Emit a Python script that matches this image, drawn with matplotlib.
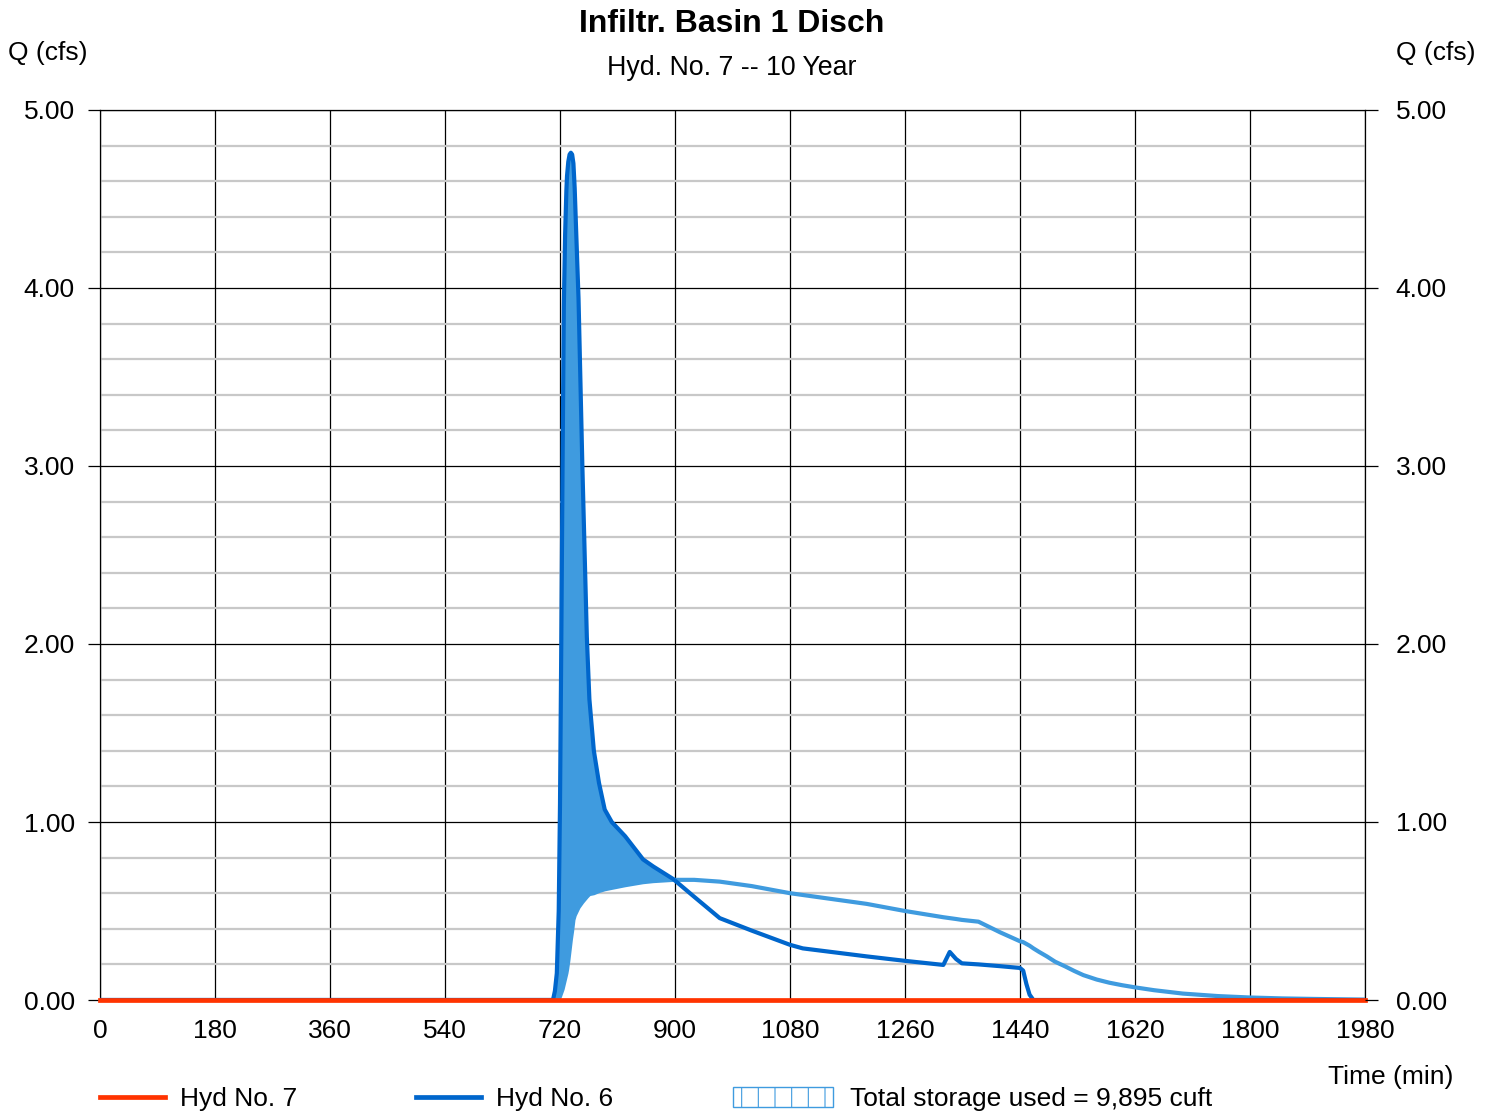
import matplotlib
matplotlib.use("Agg")
import matplotlib.pyplot as plt
from matplotlib.lines import Line2D
from matplotlib.patches import Rectangle
from matplotlib.ticker import MultipleLocator
import numpy as np

plt.rcParams['font.family'] = ['Liberation Sans', 'DejaVu Sans']
plt.rcParams['hatch.linewidth'] = 0.8

# hydrograph ordinates (min, cfs)
time_min = [0, 700, 709, 712, 715, 718, 720, 722, 724, 726, 728, 730, 731, 733, 735,
            737, 739, 741, 743, 745, 749, 755, 762, 766, 773, 781, 790, 801, 822, 850,
            866, 897, 930, 970, 1020, 1080, 1100, 1200, 1260, 1320, 1330, 1340, 1349,
            1375, 1409, 1440, 1445, 1450, 1455, 1461, 1470, 1482, 1495, 1510, 1525,
            1539, 1560, 1580, 1600, 1620, 1650, 1695, 1750, 1800, 1850, 1900, 1980]
hyd6 = [0, 0, 0, 0.05, 0.15, 0.5, 1.1, 2.0, 3.0, 3.9, 4.3, 4.55, 4.63, 4.71, 4.75,
        4.76, 4.75, 4.70, 4.56, 4.35, 3.94, 3.0, 2.04, 1.69, 1.40, 1.22, 1.07, 1.00, 0.92, 0.79,
        0.75, 0.68, 0.58, 0.46, 0.39, 0.31, 0.29, 0.245, 0.22, 0.197, 0.27, 0.23, 0.206,
        0.20, 0.19, 0.18, 0.165, 0.09, 0.03, 0, 0, 0, 0, 0, 0,
        0, 0, 0, 0, 0, 0, 0, 0, 0, 0, 0, 0]
routed = [0, 0, 0, 0, 0.005, 0.01, 0.02, 0.04, 0.06, 0.09, 0.12, 0.15, 0.17, 0.22, 0.28,
          0.34, 0.39, 0.45, 0.475, 0.49, 0.52, 0.55, 0.58, 0.595, 0.60, 0.612, 0.622, 0.63, 0.645, 0.662,
          0.668, 0.675, 0.675, 0.665, 0.64, 0.60, 0.59, 0.54, 0.50, 0.465, 0.46, 0.455, 0.45,
          0.44, 0.38, 0.33, 0.325, 0.315, 0.305, 0.29, 0.27, 0.245, 0.215, 0.19, 0.163,
          0.14, 0.115, 0.097, 0.083, 0.071, 0.055, 0.036, 0.022, 0.014, 0.009, 0.006, 0.002]
hyd7 = [0] * len(time_min)

x_ticks = [0, 180, 360, 540, 720, 900, 1080, 1260, 1440, 1620, 1800, 1980]

RED = '#FF3300'
DARK = '#0066CC'
LIGHT = '#3F9BDF'

t = np.array(time_min)
qin = np.array(hyd6)
qout = np.array(routed)

fig = plt.figure(figsize=(14.92, 11.12), dpi=100)
ax = fig.add_axes([100 / 1492, 1 - 1000 / 1112, 1265 / 1492, 890 / 1112])

ax.fill_between(t, qout, qin, where=qin >= qout, interpolate=True,
                color=LIGHT, linewidth=0, zorder=2)
ax.plot(t, qout, color=LIGHT, lw=3.0, zorder=3, solid_joinstyle='round')
ax.plot(t, qin, color=DARK, lw=3.0, zorder=4, solid_joinstyle='round')
ax.plot(t, hyd7, color=RED, lw=3.4, zorder=5, clip_on=False)

ax.set_xlim(0, 1980)
ax.set_ylim(0, 5)
ax.set_xticks(x_ticks)
ax.yaxis.set_major_locator(MultipleLocator(1))
ax.yaxis.set_minor_locator(MultipleLocator(0.2))
ax.yaxis.set_major_formatter(lambda v, p: '%.2f' % v)

ax.grid(which='minor', axis='y', color='#C8C8C8', lw=1.6, zorder=0)
ax.grid(which='major', axis='both', color='black', lw=0.9, zorder=1)
for s in ax.spines.values():
    s.set_color('black')
    s.set_linewidth(0.9)

ax.tick_params(axis='x', length=0, pad=14, labelsize=19)
ax.tick_params(axis='y', which='major', length=9, width=0.9, pad=9, labelsize=19)
ax.tick_params(axis='y', which='minor', length=0)

# right-hand Q scale
ax2 = ax.twinx()
ax2.set_ylim(0, 5)
ax2.yaxis.set_major_locator(MultipleLocator(1))
ax2.yaxis.set_major_formatter(lambda v, p: '%.2f' % v)
ax2.tick_params(axis='y', length=9, width=0.9, pad=13, labelsize=19)
for s in ax2.spines.values():
    s.set_visible(False)

fig.text(732 / 1492, 1 - 24 / 1112, 'Infiltr. Basin 1 Disch', ha='center', va='center',
         fontsize=23, fontweight='bold')
fig.text(732 / 1492, 1 - 68 / 1112, 'Hyd. No. 7 -- 10 Year', ha='center', va='center',
         fontsize=19.3)
fig.text(8 / 1492, 1 - 53 / 1112, 'Q (cfs)', ha='left', va='center', fontsize=19)
fig.text(1475 / 1492, 1 - 53 / 1112, 'Q (cfs)', ha='right', va='center', fontsize=19)
fig.text(1453 / 1492, 1 - 1077 / 1112, 'Time (min)', ha='right', va='center', fontsize=19)

# legend row along the bottom
ly = 1 - 1099 / 1112
lly = 1 - 1097 / 1112
fig.add_artist(Line2D([100 / 1492, 165 / 1492], [lly, lly], color=RED, lw=3.4))
fig.text(180 / 1492, ly, 'Hyd No. 7', ha='left', va='center', fontsize=19)
fig.add_artist(Line2D([416 / 1492, 481 / 1492], [lly, lly], color=DARK, lw=3.4))
fig.text(496 / 1492, ly, 'Hyd No. 6', ha='left', va='center', fontsize=19)
fig.add_artist(Rectangle((733 / 1492, 1 - 1107 / 1112), 100 / 1492, 20 / 1112,
                         transform=fig.transFigure, facecolor='white',
                         edgecolor=LIGHT, hatch='|', lw=1.0))
fig.text(850 / 1492, ly, 'Total storage used = 9,895 cuft', ha='left', va='center',
         fontsize=19)

fig.savefig('out.png', dpi=100)
